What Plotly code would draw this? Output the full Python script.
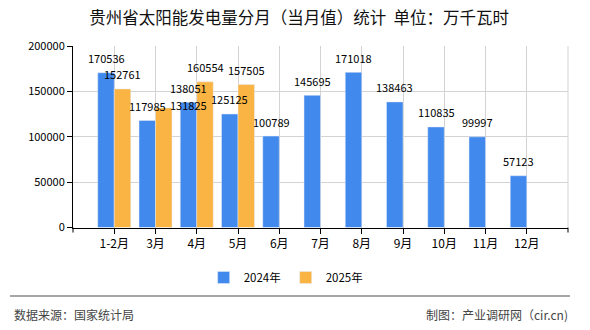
import plotly.graph_objects as go

months = ["1-2月", "3月", "4月", "5月", "6月", "7月", "8月", "9月", "10月", "11月", "12月"]
v2024 = [170536, 117985, 138051, 125125, 100789, 145695, 171018, 138463, 110835, 99997, 57123]
v2025 = [152761, 131825, 160554, 157505, None, None, None, None, None, None, None]
series_names = ["2024年", "2025年"]
y_ticks = [0, 50000, 100000, 150000, 200000]

BLUE = "#4289ED"
ORANGE = "#FAB443"
FONT = "Noto Sans CJK SC"

fig = go.Figure()
fig.add_trace(go.Bar(x=months, y=v2024, name=series_names[0], marker_color=BLUE))
fig.add_trace(go.Bar(x=months, y=v2025, name=series_names[1], marker_color=ORANGE))

# value labels above the bars (offset to each bar of the group)
half = 8.25
for series, dx in ((v2024, -half), (v2025, half)):
    for m, v in zip(months, series):
        if v is None:
            continue
        xs, ys = dx, 4.5
        if series is v2025 and m == "3月":
            # reference places this label shifted right, overlapping its neighbour
            xs, ys = dx + 25, -7
        fig.add_annotation(x=m, y=v, text=str(v), showarrow=False,
                           xanchor="center", yanchor="bottom", xshift=xs, yshift=ys,
                           font=dict(family=FONT, size=11, color="#000"))

fig.update_layout(
    width=590, height=330,
    margin=dict(l=73, r=22, t=46, b=101),
    paper_bgcolor="white", plot_bgcolor="white",
    barmode="group", bargap=0.2, bargroupgap=0,
    font=dict(family=FONT, size=12, color="#000"),
    title=dict(text="贵州省太阳能发电量分月（当月值）统计  单位：万千瓦时",
               x=0.507, xanchor="center", y=1 - 18 / 330, yanchor="middle",
               font=dict(family=FONT, size=16.5, color="#111")),
    legend=dict(orientation="h", x=0.485, xref="container", xanchor="center",
                y=1 - 277.5 / 330, yref="container", yanchor="middle",
                font=dict(family=FONT, size=11.5, color="#000"), itemwidth=30,
                traceorder="normal"),
    showlegend=True,
)
fig.update_xaxes(type="category", range=[-1, 11], showgrid=True, gridcolor="#d3d3d3",
                 gridwidth=1, showline=True, linecolor="#000", linewidth=1,
                 ticks="outside", ticklen=5, tickcolor="#000",
                 tickfont=dict(family=FONT, size=12, color="#000"))
fig.update_yaxes(range=[0, 200000], tickvals=y_ticks, tickformat="d", showgrid=True,
                 gridcolor="#d3d3d3", gridwidth=1, showline=True, linecolor="#000",
                 linewidth=1, ticks="outside", ticklen=5, tickcolor="#000", zeroline=False,
                 tickfont=dict(family=FONT, size=11, color="#000"))

# right border of grid (gray)
fig.add_shape(type="line", xref="paper", yref="paper", x0=1, x1=1, y0=0, y1=1,
              line=dict(color="#d3d3d3", width=1))
# tick marks at both ends of the category axis
for xe in (0, 1):
    fig.add_shape(type="line", xref="paper", yref="paper", x0=xe, x1=xe,
                  y0=0, y1=-5 / 183, line=dict(color="#000", width=1))
# bottom separator line
fig.add_shape(type="line", xref="paper", yref="paper",
              x0=(10 - 73) / 495, x1=(570 - 73) / 495,
              y0=-(298 - 229) / 183, y1=-(298 - 229) / 183,
              line=dict(color="#888", width=1.5))
fig.add_annotation(text="数据来源：国家统计局", xref="paper", yref="paper",
                   x=(12 - 73) / 495, y=-(317 - 229) / 183, xanchor="left", yanchor="middle",
                   showarrow=False, font=dict(family=FONT, size=12, color="#444"))
fig.add_annotation(text="制图：产业调研网（cir.cn)", xref="paper", yref="paper",
                   x=(570 - 73) / 495, y=-(317 - 229) / 183, xanchor="right", yanchor="middle",
                   showarrow=False, font=dict(family=FONT, size=12, color="#444"))

fig.write_html("out.html")
